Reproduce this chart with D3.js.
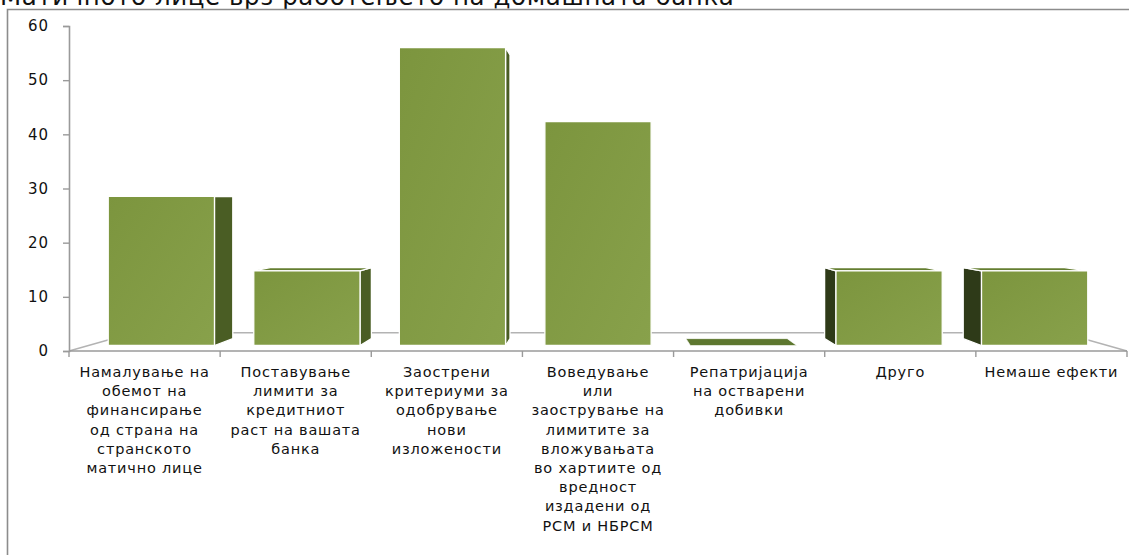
<!DOCTYPE html>
<html>
<head>
<meta charset="utf-8">
<script src="https://cdn.jsdelivr.net/npm/d3@7"></script>
<style>
  html, body { margin: 0; padding: 0; background: #fff; }
  svg { display: block; }
  text { font-family: "DejaVu Sans", Verdana, sans-serif; fill: #111; }
</style>
</head>
<body>
<svg id="chart" width="1129" height="555"></svg>
<script>
// Categories, values (%) and the wrapped category labels
const categories = [
  "Намалување на обемот на финансирање од страна на странското матично лице",
  "Поставување лимити за кредитниот раст на вашата банка",
  "Заострени критериуми за одобрување нови изложености",
  "Воведување или заострување на лимитите за вложувањата во хартиите од вредност издадени од РСМ и НБРСМ",
  "Репатријација на остварени добивки",
  "Друго",
  "Немаше ефекти"
];
const values = [28.6, 14.3, 57.1, 42.9, 0, 14.3, 14.3];
const labelLines = [
  ["Намалување на", "обемот на", "финансирање", "од страна на", "странското", "матично лице"],
  ["Поставување", "лимити за", "кредитниот", "раст на вашата", "банка"],
  ["Заострени", "критериуми за", "одобрување", "нови", "изложености"],
  ["Воведување", "или", "заострување на", "лимитите за", "вложувањата", "во хартиите од", "вредност", "издадени од", "РСМ и НБРСМ"],
  ["Репатријација", "на остварени", "добивки"],
  ["Друго"],
  ["Немаше ефекти"]
];
const yTicks = [0, 10, 20, 30, 40, 50, 60];
const title = "Матичното лице врз работењето на домашната банка";

const svg = d3.select("#chart");

// Plot area
const plotL = 69, plotR = 1127, plotT = 26, plotB = 351;

const xOuter = d3.scaleBand().domain(categories).range([plotL, plotR]);
const x = d3.scaleBand().domain(categories).range([plotL, plotR])
  .paddingInner(0.27).paddingOuter(0.135);
const y = d3.scaleLinear().domain([0, 60]).range([plotB, plotT]);

// Simple one-point perspective: points recede toward a vanishing point
const VX = (plotL + plotR) / 2, VY = 202;
const D_FRONT = 0.037, D_BACK = 0.083, D_FLOOR = 0.122;
const proj = (px, py, d) => [px + (VX - px) * d, py + (VY - py) * d];

// Title (runs off the top of the page)
svg.append("text")
  .attr("x", 0).attr("y", 5)
  .style("font-size", "24.5px")
  .style("letter-spacing", "0.6px")
  .text(title);

// Outer frame
svg.append("path")
  .attr("d", "M7.5,555V9.5H1129")
  .attr("fill", "none")
  .attr("stroke", "#8c8c8c")
  .attr("stroke-width", 1.6);

// Floor outline
const floorBackL = proj(plotL, plotB, D_FLOOR);
const floorBackR = proj(plotR, plotB, D_FLOOR);
svg.append("path")
  .attr("d", `M${plotL},${plotB}L${floorBackL}L${floorBackR}L${plotR},${plotB}`)
  .attr("fill", "none").attr("stroke", "#b3b3b3").attr("stroke-width", 1.5);

// Value axis
const yAxis = svg.append("g")
  .attr("transform", `translate(${plotL},0)`)
  .call(d3.axisLeft(y).tickValues(yTicks).tickSize(6).tickPadding(14).tickFormat(d3.format("d")));
yAxis.select(".domain").attr("stroke", "#9a9a9a").attr("stroke-width", 1.6);
yAxis.selectAll(".tick line").attr("stroke", "#9a9a9a").attr("stroke-width", 1.4);
yAxis.selectAll(".tick text")
  .style("font-family", "'DejaVu Sans', Verdana, sans-serif")
  .style("font-size", "15px")
  .style("letter-spacing", "1px")
  .attr("fill", "#111");

// Category axis (front edge of the floor) with boundary ticks
const xg = svg.append("g");
xg.append("line")
  .attr("x1", plotL).attr("x2", plotR).attr("y1", plotB).attr("y2", plotB)
  .attr("stroke", "#9a9a9a").attr("stroke-width", 1.6);
const bounds = categories.map(c => xOuter(c)).concat([plotR]);
xg.selectAll("line.tk").data(bounds).join("line")
  .attr("class", "tk")
  .attr("x1", d => d).attr("x2", d => d)
  .attr("y1", plotB).attr("y2", plotB + 6)
  .attr("stroke", "#9a9a9a").attr("stroke-width", 1.4);

// Category labels
const lineH = 19.2;
categories.forEach((c, i) => {
  const cx = xOuter(c) + xOuter.bandwidth() / 2;
  const t = svg.append("text")
    .attr("text-anchor", "middle")
    .attr("x", cx).attr("y", 377)
    .style("font-size", "14.5px")
    .style("letter-spacing", "0.8px");
  labelLines[i].forEach((ln, j) => {
    t.append("tspan").attr("x", cx).attr("y", 377 + j * lineH).text(ln);
  });
});

// Bar face colours
const defs = svg.append("defs");
const grad = defs.append("linearGradient").attr("id", "frontFill")
  .attr("x1", "0").attr("y1", "0").attr("x2", "1").attr("y2", "1");
grad.append("stop").attr("offset", "0").attr("stop-color", "#7c953e");
grad.append("stop").attr("offset", "1").attr("stop-color", "#88a14b");

const poly = pts => "M" + pts.map(p => p.join(",")).join("L") + "Z";

// 3D columns
const bars = svg.append("g").attr("stroke", "#fff").attr("stroke-width", 1.3).attr("stroke-linejoin", "round");
categories.forEach((c, i) => {
  const x0 = x(c), x1 = x0 + x.bandwidth();
  const yt = y(values[i]), yb = y(0);
  const F = (px, py) => proj(px, py, D_FRONT);
  const B = (px, py) => proj(px, py, D_BACK);
  const g = bars.append("g");

  if (x1 < VX && yt < yb) {
    g.append("path").attr("fill", "#4a5d24")
      .attr("d", poly([F(x1, yt), B(x1, yt), B(x1, yb), F(x1, yb)]));
  }
  if (x0 > VX && yt < yb) {
    g.append("path").attr("fill", "#2e3a18")
      .attr("d", poly([F(x0, yt), B(x0, yt), B(x0, yb), F(x0, yb)]));
  }
  if (yt > VY) {
    g.append("path").attr("fill", values[i] === 0 ? "#5d772f" : "#647e31")
      .attr("stroke-width", values[i] === 0 ? 0.6 : 1.3)
      .attr("d", poly([F(x0, yt), F(x1, yt), B(x1, yt), B(x0, yt)]));
  }
  if (yt < yb) {
    g.append("path").attr("fill", "url(#frontFill)")
      .attr("d", poly([F(x0, yt), F(x1, yt), F(x1, yb), F(x0, yb)]));
  }
});
</script>
</body>
</html>
